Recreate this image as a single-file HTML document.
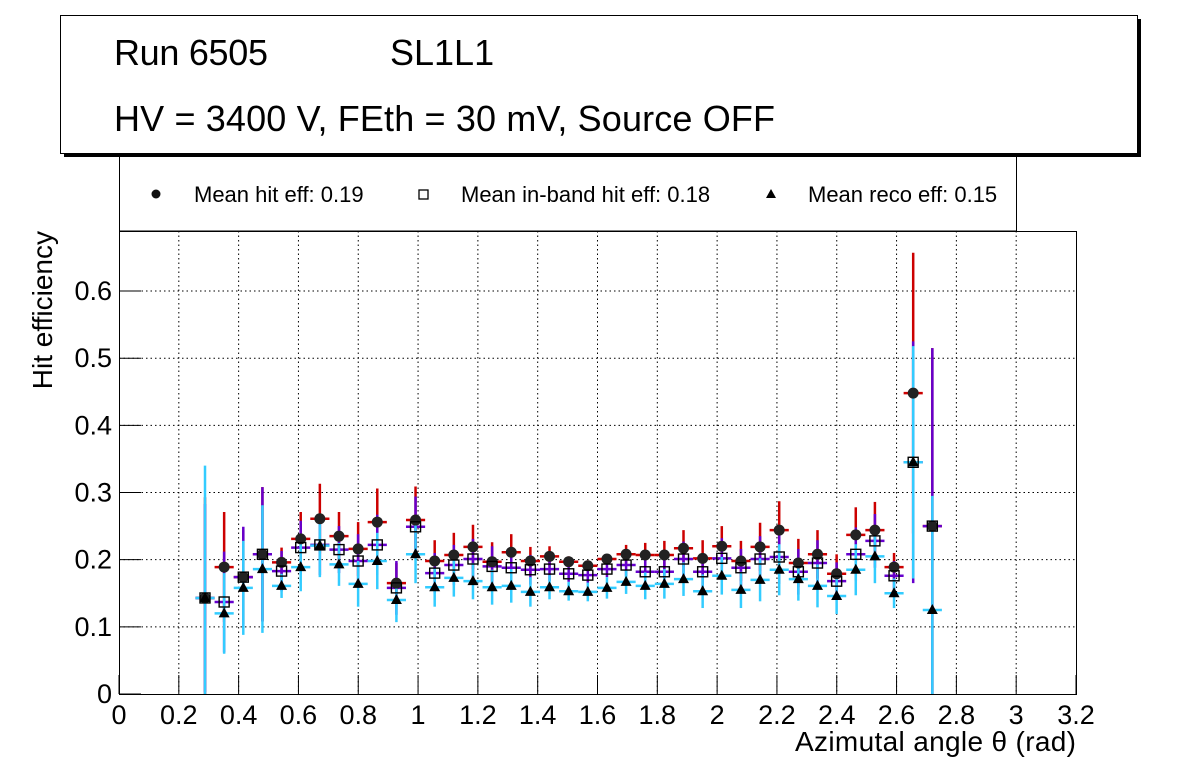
<!DOCTYPE html>
<html><head><meta charset="utf-8">
<style>
body{margin:0;background:#fff;}
svg text{font-family:"Liberation Sans",sans-serif;}
</style></head>
<body>
<svg id="chart" width="1196" height="772" viewBox="0 0 1196 772" xmlns="http://www.w3.org/2000/svg">
  <rect x="0" y="0" width="1196" height="772" fill="#fff"/>
  <g>
    <rect x="119.5" y="150" width="897" height="81" fill="#fff" stroke="#000" stroke-width="1"/>
    <circle cx="156" cy="194" r="4.5" fill="#111"/>
    <text x="194" y="202" font-size="22">Mean hit  eff: 0.19</text>
    <rect x="419" y="190" width="9" height="9" fill="#fff" stroke="#000" stroke-width="1.3"/>
    <text x="461" y="202" font-size="22">Mean in-band hit eff: 0.18</text>
    <polygon points="771,189 776,198 766,198" fill="#000"/>
    <text x="808" y="202" font-size="22">Mean reco eff: 0.15</text>
  </g>
  <g>
    <rect x="64" y="19" width="1077" height="138" fill="#000"/>
    <rect x="60.5" y="15.5" width="1077" height="138" fill="#fff" stroke="#000" stroke-width="1"/>
    <text x="114" y="65" font-size="36" textLength="154">Run 6505</text>
    <text x="390" y="65" font-size="36">SL1L1</text>
    <text x="114" y="131" font-size="36" textLength="661">HV = 3400 V, FEth = 30 mV, Source OFF</text>
  </g>
  <g id="grid"></g>
  <g id="axes"></g>
  <g id="marks"></g>
  <rect x="119.5" y="231.5" width="957" height="463" fill="none" stroke="#000" stroke-width="1"/>
  <text x="1076" y="751" font-size="28" textLength="281" text-anchor="end">Azimutal angle θ (rad)</text>
  <text transform="translate(52,231) rotate(-90)" font-size="28" text-anchor="end">Hit efficiency</text>
</svg>
<script>
const xStart = 0.2876;
const xStep = 0.064;
const hitEff = [0.143,0.189,0.174,0.208,0.196,0.231,0.261,0.235,0.216,0.256,0.165,0.259,0.198,0.207,0.219,0.197,0.211,0.198,0.205,0.197,0.191,0.201,0.208,0.207,0.207,0.217,0.202,0.220,0.198,0.219,0.244,0.195,0.208,0.179,0.237,0.244,0.189,0.448,0.250];
const hitErr = [0.15,0.082,0.07,0.1,0.022,0.04,0.052,0.036,0.04,0.05,0.03,0.05,0.031,0.033,0.033,0.029,0.027,0.021,0.015,0.008,0.008,0.007,0.014,0.018,0.021,0.027,0.027,0.03,0.03,0.036,0.043,0.036,0.036,0.029,0.041,0.042,0.021,0.209,0.265];
const inbEff = [0.143,0.137,0.174,0.208,0.183,0.218,0.222,0.215,0.198,0.222,0.158,0.249,0.180,0.192,0.201,0.190,0.188,0.185,0.186,0.179,0.177,0.186,0.192,0.182,0.182,0.201,0.182,0.202,0.188,0.201,0.204,0.182,0.195,0.168,0.208,0.228,0.176,0.345,0.250];
const inbErr = [0.14,0.075,0.075,0.1,0.03,0.04,0.045,0.035,0.04,0.045,0.04,0.045,0.03,0.03,0.03,0.03,0.028,0.022,0.018,0.012,0.012,0.012,0.016,0.02,0.022,0.026,0.026,0.03,0.028,0.034,0.04,0.034,0.034,0.028,0.04,0.04,0.022,0.18,0.265];
const recoEff = [0.143,0.120,0.158,0.186,0.161,0.189,0.221,0.193,0.164,0.198,0.140,0.208,0.159,0.173,0.168,0.159,0.161,0.152,0.159,0.153,0.152,0.158,0.167,0.161,0.164,0.171,0.153,0.176,0.155,0.170,0.185,0.171,0.161,0.146,0.185,0.205,0.150,0.345,0.125];
const recoErr = [0.197,0.06,0.07,0.095,0.018,0.036,0.047,0.032,0.034,0.042,0.033,0.043,0.029,0.028,0.027,0.026,0.025,0.022,0.018,0.014,0.014,0.016,0.018,0.02,0.022,0.025,0.025,0.028,0.027,0.032,0.038,0.032,0.032,0.027,0.038,0.04,0.022,0.173,0.17];
const xTicks = [0,0.2,0.4,0.6,0.8,1,1.2,1.4,1.6,1.8,2,2.2,2.4,2.6,2.8,3,3.2];
const xTickLabels = ["0","0.2","0.4","0.6","0.8","1","1.2","1.4","1.6","1.8","2","2.2","2.4","2.6","2.8","3","3.2"];
const yTicks = [0,0.1,0.2,0.3,0.4,0.5,0.6];
const yTickLabels = ["0","0.1","0.2","0.3","0.4","0.5","0.6"];

const X0=119, X1=1076, Y0=694, Y1=231;
const XMAX=3.2, YMAX=0.6894;
const sx = v => X0 + v/XMAX*(X1-X0);
const sy = v => Math.max(Y1, Math.min(Y0, Y0 - v/YMAX*(Y0-Y1)));
const NS='http://www.w3.org/2000/svg';
function mk(tag, attrs, parent){
  const e=document.createElementNS(NS,tag);
  for(const k in attrs) e.setAttribute(k,attrs[k]);
  parent.appendChild(e); return e;
}
const grid=document.getElementById('grid'), axes=document.getElementById('axes'), marks=document.getElementById('marks');
xTicks.forEach((t,i)=>{
  const x=sx(t);
  if(i>0 && i<xTicks.length-1){
    const g=mk('line',{x1:x,x2:x,y1:Y1,y2:Y0,stroke:'#000','stroke-width':1,'stroke-dasharray':'1.5,3'},grid);
    
    
  }
  const tk=mk('line',{x1:x,x2:x,y1:Y0,y2:Y0-19,stroke:'#000','stroke-width':1},axes);
  
  
  const lb=mk('text',{x:x,y:724,'font-size':27,'text-anchor':'middle'},axes);
  lb.textContent=xTickLabels[i];
  
  
});
yTicks.forEach((t,i)=>{
  const y=sy(t);
  if(i>0){
    const g=mk('line',{x1:X0,x2:X1,y1:y,y2:y,stroke:'#000','stroke-width':1,'stroke-dasharray':'1.5,3'},grid);
    
    
  }
  const tk=mk('line',{x1:X0,x2:X0+22,y1:y,y2:y,stroke:'#000','stroke-width':1},axes);
  
  
  const lb=mk('text',{x:112,y:y+9,'font-size':27,'text-anchor':'end'},axes);
  lb.textContent=yTickLabels[i];
  
  
});
const halfW = (sx(xStep)-sx(0))/2;
function bars(vals, errs, color, name){
  const g=mk('g',{},marks);
  
  
  vals.forEach((v,i)=>{
    const x=sx(xStart+i*xStep);
    const y=sy(v);
    const ln=mk('line',{x1:x,x2:x,y1:sy(v-errs[i]),y2:sy(v+errs[i]),stroke:color,'stroke-width':2.5},g);
    
    
    const h=mk('line',{x1:x-halfW,x2:x+halfW,y1:y,y2:y,stroke:color,'stroke-width':2.5},g);
    
    
  });
}
bars(hitEff,hitErr,'#cc0000','hit');
bars(inbEff,inbErr,'#6600cc','inband');
bars(recoEff,recoErr,'#33ccff','reco');
hitEff.forEach((v,i)=>{
  const c=mk('circle',{cx:sx(xStart+i*xStep),cy:sy(v),r:5.5,fill:'#222'},marks);
  
  
});
inbEff.forEach((v,i)=>{
  const x=sx(xStart+i*xStep), y=sy(v);
  const r=mk('rect',{x:x-5,y:y-5,width:10,height:10,fill:'none',stroke:'#000','stroke-width':1.4},marks);
  
  
});
recoEff.forEach((v,i)=>{
  const x=sx(xStart+i*xStep), y=sy(v);
  const p=mk('polygon',{points:`${x},${y-6} ${x+5.5},${y+4} ${x-5.5},${y+4}`,fill:'#000'},marks);
  
  
});
</script>
</body></html>
